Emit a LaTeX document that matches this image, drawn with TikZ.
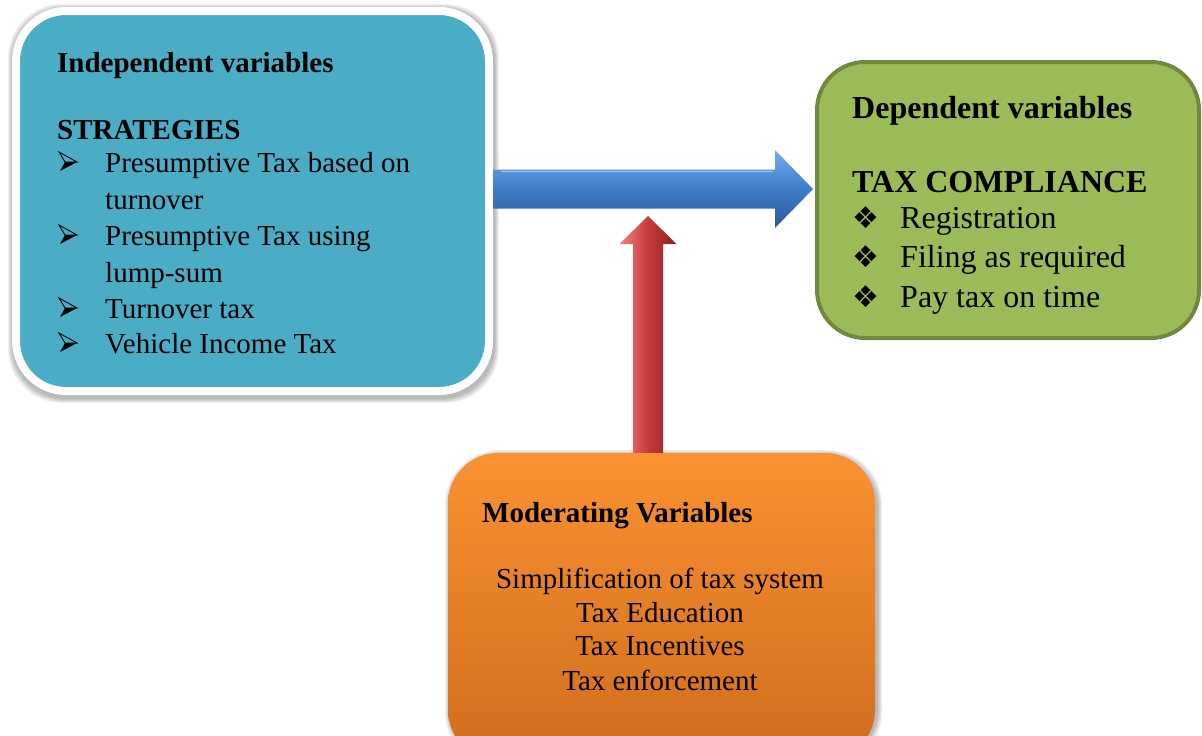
\documentclass[tikz,border=0pt]{standalone}
\usepackage{fontspec}
\setmainfont{Liberation Serif}
\newfontfamily\symfont{DejaVu Sans}
\usetikzlibrary{calc}
\definecolor{indfill}{HTML}{4BACC6}
\definecolor{depfill}{HTML}{9BBB59}
\definecolor{depdraw}{HTML}{71893F}
\definecolor{modtop}{HTML}{FA9232}
\definecolor{modbot}{HTML}{D06C1C}
\definecolor{bluetop}{HTML}{74ADEB}
\definecolor{bluemid}{HTML}{3F7CC8}
\definecolor{bluebot}{HTML}{2C5A96}
\definecolor{redleft}{HTML}{F47E7E}
\definecolor{redmid}{HTML}{C63B3B}
\definecolor{redright}{HTML}{8A2222}
\tikzset{
  box/.style={rounded corners=50pt, inner sep=0pt},
  txt/.style={anchor=base west, inner sep=0pt},
  headA/.style={txt, font={\fontsize{29}{35}\selectfont\bfseries}},
  bodyA/.style={txt, font={\fontsize{29}{35}\selectfont}},
  headB/.style={txt, font={\fontsize{32}{38}\selectfont\bfseries}},
  bodyB/.style={txt, font={\fontsize{32}{38}\selectfont}},
  bulB/.style={txt, font={\symfont\fontsize{30}{34}\selectfont}},
  bodyC/.style={anchor=base, inner sep=0pt, font={\fontsize{29}{35}\selectfont}},
  halo/.style={black, opacity=0.06},
  arrbul/.pic={
    \draw[line width=0.9pt, line join=miter] (0,-10) -- (18,0) -- (6,0) -- cycle;
    \fill (6,0) -- (18,0) -- (1,9) -- cycle;
  },
}
\begin{document}
\begin{tikzpicture}[x=1pt,y=-1pt]
\clip (0,0) rectangle (1202,736);
\fill[white] (0,0) rectangle (1202,736);
% soft shadows (drawn first)
\foreach \k in {1,...,5}{
  \fill[halo, rounded corners=54pt] ($(16,11)+(-4-\k+1,-4-\k+2)$) rectangle ($(489,391)+(4+\k+1,4+\k+3)$);
}
\foreach \k in {1,...,5}{
  \fill[halo, rounded corners=54pt] ($(448,453)+(-\k+2,-\k+2)$) rectangle ($(875,760)+(\k+2,\k+2)$);
}
% boxes
\node[box, fill=indfill, draw=white, line width=8pt, minimum width=473pt, minimum height=380pt] (indep) at (252.5,201) {};
\node[box, rounded corners=48pt, fill=depfill, draw=depdraw, line width=4pt, minimum width=382pt, minimum height=276pt] (dep) at (1008,200) {};
\node[box, top color=modtop, bottom color=modbot, minimum width=427pt, minimum height=307pt] (mod) at (661.5,606.5) {};
% blue arrow
\coordinate (bs) at (493,189);
\coordinate (bt) at (813,189);
\shade[top color=bluetop, bottom color=bluebot, middle color=bluemid]
  ($(bs)+(0,-19.5)$) -- ($(bt)+(-38,-19.5)$) -- ($(bt)+(-38,-39)$) -- (bt)
  -- ($(bt)+(-38,39)$) -- ($(bt)+(-38,19.5)$) -- ($(bs)+(0,19.5)$) -- cycle;
\draw[bluetop!70!white, line width=1.5pt] ($(bs)+(8,-17.5)$) -- ($(bt)+(-40,-17.5)$);
% red arrow
\coordinate (rt) at (648,216);
\coordinate (rb) at (mod.north -| rt);
\shade[left color=redleft, right color=redright, middle color=redmid]
  (rt) -- ($(rt)+(28.5,28)$) -- ($(rt)+(15,28)$) -- ($(rb)+(15,0)$)
  -- ($(rb)+(-15,0)$) -- ($(rt)+(-15,28)$) -- ($(rt)+(-28.5,28)$) -- cycle;
% independent text
\node[headA] (t1) at (57,72) {Independent variables};
\node[headA] (t2) at (57,139) {STRATEGIES};
\pic (b1) at (59,162) {arrbul};
\node[bodyA] (i1) at (105,172) {Presumptive Tax based on};
\node[bodyA] (i1b) at (105,209) {turnover};
\pic (b2) at (59,235) {arrbul};
\node[bodyA] (i2) at (105,245) {Presumptive Tax using};
\node[bodyA] (i2b) at (105,282) {lump-sum};
\pic (b3) at (59,308) {arrbul};
\node[bodyA] (i3) at (105,318) {Turnover tax};
\pic (b4) at (59,343) {arrbul};
\node[bodyA] (i4) at (105,353) {Vehicle Income Tax};
% dependent text
\node[headB] (d1) at (852,118) {Dependent variables};
\node[headB] (d2) at (852,192) {TAX COMPLIANCE};
\node[bulB] (c1) at (852,228) {❖};
\node[bodyB] (j1) at (900,228) {Registration};
\node[bulB] (c2) at (852,267) {❖};
\node[bodyB] (j2) at (900,267) {Filing as required};
\node[bulB] (c3) at (852,307) {❖};
\node[bodyB] (j3) at (900,307) {Pay tax on time};
% moderating text
\node[headA] (m1) at (482,522) {Moderating Variables};
\node[bodyC] (k1) at (660,588) {Simplification of tax system};
\node[bodyC] (k2) at (660,622) {Tax Education};
\node[bodyC] (k3) at (660,655) {Tax Incentives};
\node[bodyC] (k4) at (660,690) {Tax enforcement};
\end{tikzpicture}
\end{document}
